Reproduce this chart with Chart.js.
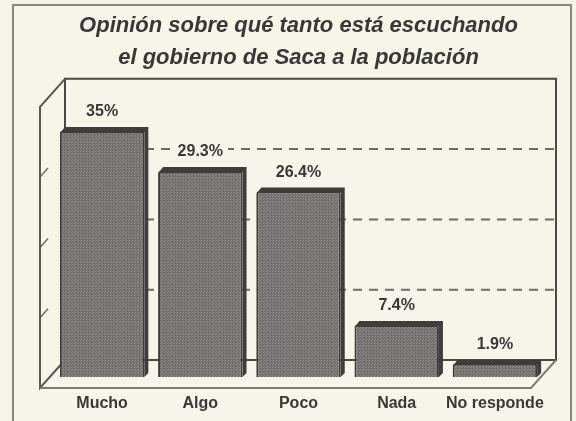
<!DOCTYPE html>
<html>
<head>
<meta charset="utf-8">
<script src="https://cdn.jsdelivr.net/npm/chart.js@4/dist/chart.umd.min.js"></script>
<style>
    body { margin: 0; background: #f7f4ea; }
    #wrap { position: relative; width: 576px; height: 421px; }
</style>
</head>
<body>
<div id="wrap"><canvas id="myChart" width="576" height="421"></canvas></div>
<script>
const titleLines = ['Opinión sobre qué tanto está escuchando', 'el gobierno de Saca a la población'];
const categories = ['Mucho', 'Algo', 'Poco', 'Nada', 'No responde'];
const values = [35, 29.3, 26.4, 7.4, 1.9];
const gridValues = [10, 20, 30];
const yMax = 40;

const paper = '#f7f4ea';
const ink = '#3a3836';
const fontFamily = "'Liberation Sans', Arial, sans-serif";

// back wall / front floor offsets from the plane the bars sit in
const back = { dx: 12, dy: -17 };
const front = { dx: -13, dy: 11 };
const cap = 4;

// halftone-ish grey for the bars
const makePattern = () => {
    const c = document.createElement('canvas');
    c.width = 3; c.height = 3;
    const g = c.getContext('2d');
    g.fillStyle = '#72706e';
    g.fillRect(0, 0, 3, 3);
    g.fillStyle = '#94908d';
    g.fillRect(0, 0, 1, 1);
    g.fillRect(2, 1, 1, 1);
    return g.createPattern(c, 'repeat');
};

const line = (ctx, pts, color, width, dash) => {
    ctx.save();
    ctx.strokeStyle = color;
    ctx.lineWidth = width;
    ctx.setLineDash(dash || []);
    ctx.beginPath();
    ctx.moveTo(pts[0][0], pts[0][1]);
    for (let i = 1; i < pts.length; i++) ctx.lineTo(pts[i][0], pts[i][1]);
    ctx.stroke();
    ctx.restore();
};

const frame = {
    id: 'frame',
    beforeDraw(chart) {
        const ctx = chart.ctx;
        ctx.save();
        ctx.fillStyle = paper;
        ctx.fillRect(0, 0, chart.width, chart.height);
        ctx.restore();
        line(ctx, [[13, 421], [13, 5], [571, 5], [571, 421]], '#8a8682', 2);
    }
};

const walls = {
    id: 'walls',
    beforeDatasetsDraw(chart) {
        const ctx = chart.ctx;
        const a = chart.chartArea;
        const y = chart.scales.y;
        const y0 = y.getPixelForValue(0);
        const yTop = y.getPixelForValue(yMax);
        const bl = a.left + back.dx, br = a.right + back.dx;
        const fl = a.left + front.dx, fr = a.right + front.dx;

        // dashed lines on the back wall
        gridValues.forEach(v => {
            const py = y.getPixelForValue(v) + back.dy;
            line(ctx, [[bl, py], [br, py]], '#6e6a66', 2, [9, 7]);
            const fy = y.getPixelForValue(v) + front.dy;
            line(ctx, [[fl, fy], [fl + 8, fy - 9]], '#6e6a66', 1.5);
        });

        // back wall outline
        line(ctx, [[bl, y0 + back.dy], [bl, yTop + back.dy], [br, yTop + back.dy], [br, y0 + back.dy], [bl, y0 + back.dy]], '#4a4744', 2);
        // left wall
        line(ctx, [[bl, yTop + back.dy], [fl, yTop + front.dy], [fl, y0 + front.dy], [bl, y0 + back.dy]], '#5a5653', 2);
        // floor
        line(ctx, [[fl, y0 + front.dy], [fr, y0 + front.dy], [br, y0 + back.dy]], '#7e7a76', 2);
    },
    afterDatasetsDraw(chart) {
        const ctx = chart.ctx;
        const meta = chart.getDatasetMeta(0);
        meta.data.forEach((bar, i) => {
            const { x, y, width, base } = bar.getProps(['x', 'y', 'width', 'base'], true);
            const l = x - width / 2, r = x + width / 2;
            ctx.save();
            ctx.fillStyle = '#3f3c3a';
            ctx.beginPath();
            ctx.moveTo(l + 1, y + 1);
            ctx.lineTo(l + 1 + cap, y - cap);
            ctx.lineTo(r + cap, y - cap);
            ctx.lineTo(r + cap, base - cap);
            ctx.lineTo(r, base);
            ctx.lineTo(r, y + 1);
            ctx.closePath();
            ctx.fill();

            const text = values[i] + '%';
            ctx.font = 'bold 16px ' + fontFamily;
            ctx.textAlign = 'center';
            ctx.textBaseline = 'middle';
            const ty = y - cap - 15;
            const w = ctx.measureText(text).width + 10;
            ctx.fillStyle = paper;
            ctx.fillRect(x - w / 2, ty - 9, w, 18);
            ctx.fillStyle = ink;
            ctx.fillText(text, x, ty);
            ctx.restore();
        });
    }
};

new Chart(document.getElementById('myChart'), {
    type: 'bar',
    data: {
        labels: categories,
        datasets: [{
            data: values,
            backgroundColor: makePattern(),
            borderColor: '#3f3c3a',
            borderWidth: 2,
            borderRadius: 2,
            barPercentage: 0.86,
            categoryPercentage: 1
        }]
    },
    options: {
        responsive: false,
        animation: false,
        layout: { padding: { left: 53, right: 32, top: 0, bottom: 10 } },
        plugins: {
            legend: { display: false },
            tooltip: { enabled: false },
            title: {
                display: true,
                text: titleLines,
                color: ink,
                font: { family: fontFamily, size: 22, weight: 'bold', style: 'italic', lineHeight: 1.45 },
                padding: { top: 10, bottom: 22 }
            }
        },
        scales: {
            x: {
                grid: { display: false, drawTicks: false },
                border: { display: false },
                ticks: {
                    color: ink, padding: 17, maxRotation: 0, minRotation: 0, autoSkip: false,
                    font: { family: fontFamily, size: 16, weight: 'bold' }
                },
                afterFit(scale) { scale.height = 34; }
            },
            y: { display: false, min: 0, max: yMax }
        }
    },
    plugins: [frame, walls]
});
</script>
</body>
</html>
